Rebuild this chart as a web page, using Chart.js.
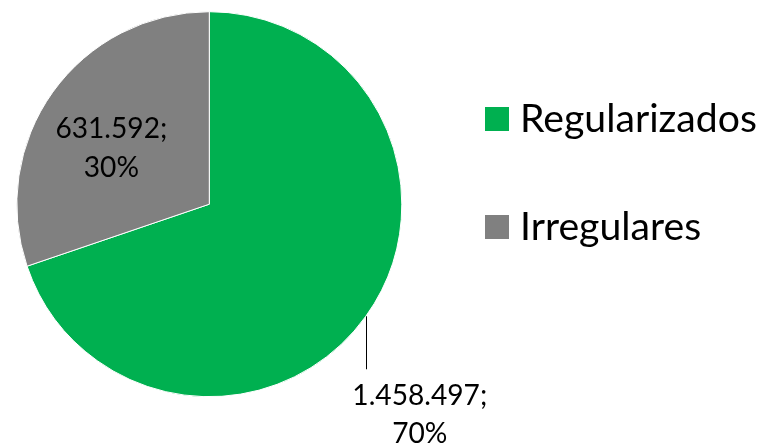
<!DOCTYPE html>
<html><head><meta charset="utf-8">
<script src="https://cdn.jsdelivr.net/npm/chart.js@4/dist/chart.umd.min.js"></script>
<style>html,body{margin:0;padding:0;background:#fff;overflow:hidden}canvas{display:block}</style>
</head><body>
<canvas id="c" width="763" height="443"></canvas>
<script>
const categories = ['Regularizados', 'Irregulares'];
const values = [1458497, 631592];
const valueLabels = ['1.458.497', '631.592'];
const percentLabels = ['70%', '30%'];
const colors = ['#00B050', '#808080'];

const FONT = 'Lato, "Open Sans", sans-serif';
function fitFont(ctx, text, width, base) {
  ctx.font = base + 'px ' + FONT;
  const w = ctx.measureText(text).width;
  return base * width / w;
}

const labelPlugin = {
  id: 'sliceLabels',
  afterDatasetsDraw(chart) {
    const ctx = chart.ctx;
    const meta = chart.getDatasetMeta(0);
    ctx.save();
    const size = fitFont(ctx, '631.592;', 112, 28);
    ctx.font = size + 'px ' + FONT;
    ctx.fillStyle = '#000';
    ctx.textAlign = 'center';
    ctx.textBaseline = 'alphabetic';
    meta.data.forEach((arc, i) => {
      const p = arc.getProps(['x', 'y', 'startAngle', 'endAngle', 'outerRadius'], true);
      const mid = (p.startAngle + p.endAngle) / 2;
      if (i === 0) {
        const ex = p.x + Math.cos(mid) * p.outerRadius;
        const ey = p.y + Math.sin(mid) * p.outerRadius;
        ctx.strokeStyle = '#000';
        ctx.lineWidth = 1;
        ctx.beginPath();
        ctx.moveTo(Math.round(ex) + 0.5, ey);
        ctx.lineTo(Math.round(ex) + 0.5, ey + 53);
        ctx.stroke();
        ctx.fillText(valueLabels[i] + ';', ex + 54, ey + 89);
        ctx.fillText(percentLabels[i], ex + 54, ey + 127);
      } else {
        const a = p.startAngle + 0.443 * (p.endAngle - p.startAngle);
        const r = 0.584 * p.outerRadius;
        const cx = p.x + Math.cos(a) * r;
        const cy = p.y + Math.sin(a) * r;
        ctx.fillText(valueLabels[i] + ';', cx, cy - 10.7);
        ctx.fillText(percentLabels[i], cx, cy + 28);
      }
    });
    ctx.restore();
  },
  afterDraw(chart) {
    const ctx = chart.ctx;
    ctx.save();
    const size = fitFont(ctx, categories[0], 237, 33);
    ctx.font = size + 'px ' + FONT;
    ctx.textAlign = 'left';
    ctx.textBaseline = 'alphabetic';
    categories.forEach((c, i) => {
      const top = 107 + i * 108;
      ctx.fillStyle = colors[i];
      ctx.fillRect(485, top, 24, 24);
      ctx.fillStyle = '#000';
      ctx.fillText(c, 520, top + 24.7);
    });
    ctx.restore();
  }
};

new Chart(document.getElementById('c'), {
  type: 'pie',
  data: {
    labels: categories,
    datasets: [{
      data: values,
      backgroundColor: colors,
      borderColor: '#ffffff',
      borderWidth: 1
    }]
  },
  options: {
    responsive: false,
    animation: false,
    layout: { padding: { left: 16.3, top: 11.2, right: 360.7, bottom: 45.8 } },
    plugins: { legend: { display: false }, tooltip: { enabled: false } }
  },
  plugins: [labelPlugin]
});
</script>
</body></html>
